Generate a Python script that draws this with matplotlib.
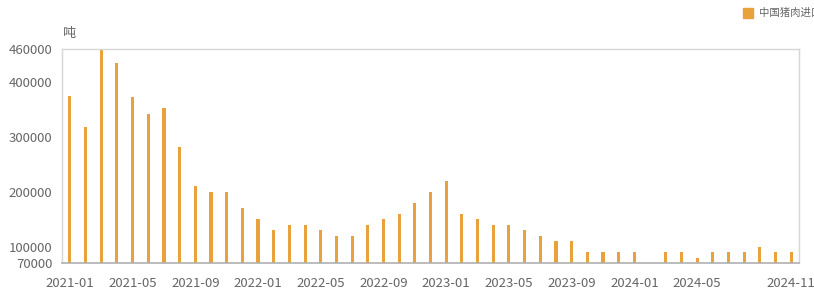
import numpy as np
import matplotlib
matplotlib.use('Agg')
import matplotlib.pyplot as plt
from matplotlib.patches import Rectangle

plt.rcParams['font.family'] = ['Noto Sans CJK SC', 'DejaVu Sans']

# monthly pork imports (tons), 2021-01 .. 2024-11; 2024-02 missing
months = ['2021-01', '2021-02', '2021-03', '2021-04', '2021-05', '2021-06',
          '2021-07', '2021-08', '2021-09', '2021-10', '2021-11', '2021-12',
          '2022-01', '2022-02', '2022-03', '2022-04', '2022-05', '2022-06',
          '2022-07', '2022-08', '2022-09', '2022-10', '2022-11', '2022-12',
          '2023-01', '2023-02', '2023-03', '2023-04', '2023-05', '2023-06',
          '2023-07', '2023-08', '2023-09', '2023-10', '2023-11', '2023-12',
          '2024-01', '2024-02', '2024-03', '2024-04', '2024-05', '2024-06',
          '2024-07', '2024-08', '2024-09', '2024-10', '2024-11']
imports = [375000, 317000, 460000, 434000, 372000, 342000,
           352000, 281000, 210000, 200000, 200000, 170000,
           150000, 130000, 140000, 140000, 130000, 120000,
           120000, 140000, 150000, 160000, 180000, 200000,
           220000, 160000, 150000, 140000, 140000, 130000,
           120000, 110000, 110000, 90000, 90000, 90000,
           90000, np.nan, 90000, 90000, 80000, 90000,
           90000, 90000, 100000, 90000, 90000]
shown_labels = ['2021-01', '2021-05', '2021-09', '2022-01', '2022-05', '2022-09',
                '2023-01', '2023-05', '2023-09', '2024-01', '2024-05', '2024-11']
y_ticks = [70000, 100000, 200000, 300000, 400000, 460000]

bar_color = '#E9A23B'
text_color = '#666666'

fig = plt.figure(figsize=(8.14, 2.9), dpi=100)
ax = fig.add_axes([0.0762, 0.0931, 0.9054, 0.7379])

x = np.arange(len(months))
ax.bar(x, imports, width=0.2, color=bar_color, bottom=0)

ax.set_xlim(-0.5, len(months) - 0.5)
ax.set_ylim(70000, 460000)
ax.set_yticks(y_ticks)
ax.set_yticklabels([str(v) for v in y_ticks])
ax.set_xticks([months.index(m) for m in shown_labels])
ax.set_xticklabels(shown_labels)
ax.tick_params(axis='both', length=0, labelsize=9.5, colors=text_color)
ax.tick_params(axis='x', pad=10)
ax.tick_params(axis='y', pad=7)

for side in ['top', 'right', 'left']:
    ax.spines[side].set_color('#d6d6d6')
    ax.spines[side].set_linewidth(1)
ax.spines['bottom'].set_color('#b0b0b0')
ax.spines['bottom'].set_linewidth(1.2)

fig.text(62 / 814, 1 - 33 / 290, '吨', fontsize=9.5, color=text_color,
         ha='left', va='center')

# legend (runs off the right edge like the original)
fig.patches.append(Rectangle((743 / 814, 1 - 18 / 290), 10 / 814, 10 / 290,
                             transform=fig.transFigure, color=bar_color))
fig.text(759 / 814, 1 - 13 / 290, '中国猪肉进口', fontsize=7.5, color=text_color,
         ha='left', va='center')

fig.savefig('out.png', dpi=100)
